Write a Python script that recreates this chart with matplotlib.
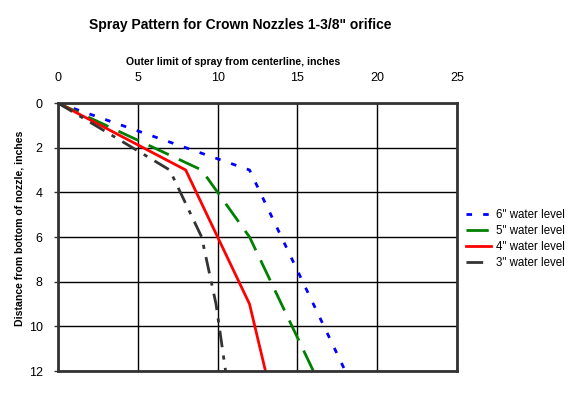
import matplotlib
matplotlib.use("Agg")
import matplotlib.pyplot as plt

depth = [0, 3, 6, 9, 12]
spray_6in = [0, 12, 14, 16, 18]
spray_5in = [0, 9, 12, 14, 16]
spray_4in = [0, 8, 10, 12, 13]
spray_3in = [0, 7, 9, 9.9, 10.5]
labels = ['6" water level', '5" water level', '4" water level', '3" water level']
xticks = [0, 5, 10, 15, 20, 25]
yticks = [0, 2, 4, 6, 8, 10, 12]

plt.rcParams['font.family'] = ['Liberation Sans', 'DejaVu Sans']

fig = plt.figure(figsize=(5.76, 3.94), dpi=100)
ax = fig.add_axes([58/576, 1-371/394, 399/576, (371-103)/394])

ax.plot(spray_6in, depth, color='#0000ff', lw=2, linestyle=(0, (2, 4)), label=labels[0])
ax.plot(spray_5in, depth, color='#008000', lw=2, linestyle=(0, (8, 4)), label=labels[1])
ax.plot(spray_4in, depth, color='#ff0000', lw=2, linestyle='-', label=labels[2])
ax.plot(spray_3in, depth, color='#333333', lw=2, linestyle=(0, (6, 3, 1.5, 3)), label=labels[3])

ax.set_xlim(0, 25)
ax.set_ylim(12, 0)
ax.set_xticks(xticks)
ax.set_yticks(yticks)
ax.xaxis.tick_top()
ax.tick_params(axis='x', length=0, labelsize=9, pad=14)
ax.tick_params(axis='y', length=3, width=1, labelsize=9, pad=8, color='#333333')
ax.grid(True, color='black', lw=1)
ax.set_axisbelow(True)
for s in ax.spines.values():
    s.set_color('#333333')
    s.set_linewidth(2)

fig.text(233/576, 1-62/394, 'Outer limit of spray from centerline, inches', fontsize=7.6,
         fontweight='bold', ha='center', va='center')
fig.text(20/576, 1-228/394, 'Distance from bottom of nozzle, inches', fontsize=7.6,
         fontweight='bold', ha='center', va='center', rotation=90)

fig.text(240/576, 1-25/394, 'Spray Pattern for Crown Nozzles 1-3/8" orifice', fontsize=10,
         fontweight='bold', ha='center', va='center')

leg = ax.legend(loc='upper left', bbox_to_anchor=(1.01, 0.622), frameon=False, fontsize=8.3,
                handlelength=2.2, handletextpad=0.4, labelspacing=0.36, borderaxespad=0)

fig.savefig('out.png', dpi=100)
